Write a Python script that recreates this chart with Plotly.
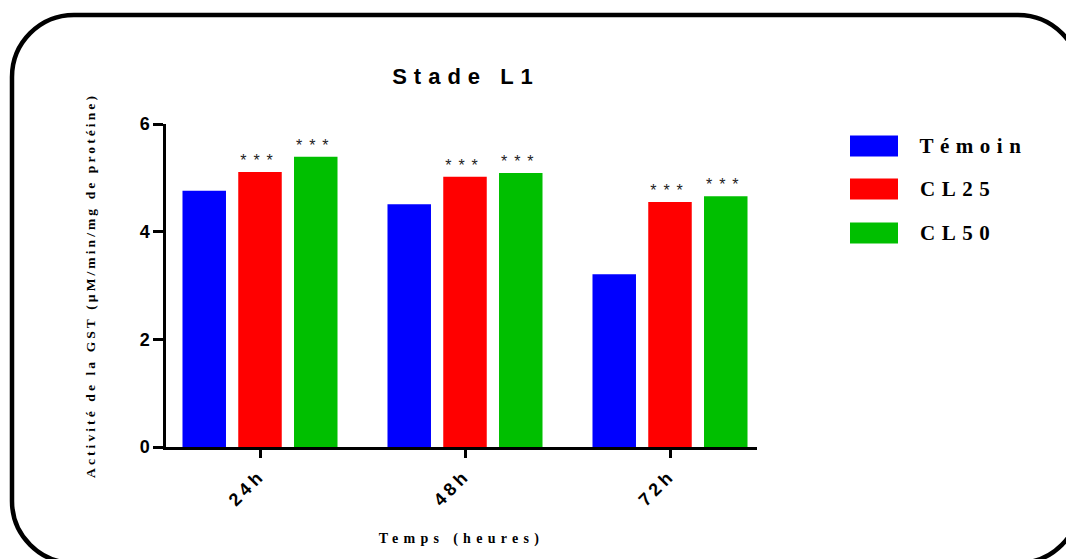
import plotly.graph_objects as go

# ---------------- data ----------------
categories = ["24h", "48h", "72h"]
series_names = ["Témoin", "CL25", "CL50"]
temoin = [4.76, 4.51, 3.21]
cl25 = [5.11, 5.02, 4.55]
cl50 = [5.39, 5.09, 4.66]
signif_temoin = ["", "", ""]
signif_cl25 = ["***", "***", "***"]
signif_cl50 = ["***", "***", "***"]
y_ticks = [0, 2, 4, 6]

colors = ["#0000FF", "#FF0000", "#00BF00"]
values = [temoin, cl25, cl50]
signifs = [signif_temoin, signif_cl25, signif_cl50]

W, H = 1066, 559
ML, MR, MT, MB = 166, 309, 124, 112
PW, PH = W - ML - MR, H - MT - MB


def px(x):
    return (x - ML) / PW


def py(y):
    return (H - MB - y) / PH


SANS = "Liberation Sans, Arial, sans-serif"
SERIF = "Liberation Serif, Times New Roman, serif"

LEG_LS = 6.5   # legend letter spacing (px)

fig = go.Figure()
for name, vals, col, sig in zip(series_names, values, colors, signifs):
    fig.add_trace(go.Bar(
        x=categories, y=vals, name=name,
        marker=dict(color=col, line=dict(width=0)),
        text=sig, textposition="outside", cliponaxis=False,
        textfont=dict(family=SANS, size=16, color="#222222"),
        showlegend=False,
    ))

# manual legend (large swatches like the original)
leg_y = [146, 189, 233]
shapes = []
annotations = []
for name, col, yc in zip(series_names, colors, leg_y):
    shapes.append(dict(type="rect", xref="paper", yref="paper",
                       x0=px(850), x1=px(898), y0=py(yc - 10.5), y1=py(yc + 10.5),
                       fillcolor=col, line=dict(width=0)))
    annotations.append(dict(text=name, xref="paper", yref="paper",
                            x=px(918 + LEG_LS * len(name) / 2), y=py(yc),
                            xanchor="left", yanchor="middle",
                            showarrow=False,
                            font=dict(family=SERIF, size=21, color="black", weight="bold")))

# rounded frame
L, T, R, B, r = 12, 15, 1080, 563, 62
k = 0.5523 * r
pts = [
    ("M", [(L, T + r)]),
    ("C", [(L, T + r - k), (L + r - k, T), (L + r, T)]),
    ("L", [(R - r, T)]),
    ("C", [(R - r + k, T), (R, T + r - k), (R, T + r)]),
    ("L", [(R, B - r)]),
    ("C", [(R, B - r + k), (R - r + k, B), (R - r, B)]),
    ("L", [(L + r, B)]),
    ("C", [(L + r - k, B), (L, B - r + k), (L, B - r)]),
]
path = ""
for cmd, ps in pts:
    path += cmd + " ".join(f"{px(a):.5f},{py(b):.5f}" for a, b in ps) + " "
path += "Z"
shapes.append(dict(type="path", xref="paper", yref="paper", path=path,
                   line=dict(color="black", width=4.5), fillcolor="rgba(0,0,0,0)"))

fig.update_layout(
    width=W, height=H,
    margin=dict(l=ML, r=MR, t=MT, b=MB),
    paper_bgcolor="white", plot_bgcolor="white",
    barmode="group", bargap=0.184, bargroupgap=0.22,
    title=dict(text="Stade L1", x=px(466), xref="paper", xanchor="center",
               y=1 - 76 / H, yref="container", yanchor="middle",
               font=dict(family=SANS, size=22, color="black", weight="bold")),
    xaxis=dict(
        range=[(ML - 260) / 205, (ML + PW - 260) / 205],
        showline=True, linecolor="black", linewidth=2.5,
        ticks="outside", ticklen=8, tickwidth=2.5, tickcolor="black",
        tickangle=-45, showgrid=False, zeroline=False,
        tickfont=dict(family=SANS, size=18, color="black", weight="bold"),
        title=dict(text="Temps (heures)", standoff=33,
                   font=dict(family=SERIF, size=14, color="black", weight="bold")),
    ),
    yaxis=dict(
        range=[0, 6], tickvals=y_ticks,
        showline=True, linecolor="black", linewidth=2.5,
        ticks="outside", ticklen=10, tickwidth=2.5, tickcolor="black",
        showgrid=False, zeroline=False,
        tickfont=dict(family=SANS, size=18, color="black", weight="bold"),
        title=dict(text="Activité de la GST (µM/min/mg de protéine)", standoff=41,
                   font=dict(family=SERIF, size=13.5, color="black", weight="bold")),
    ),
    shapes=shapes,
    annotations=annotations,
)

css = ("html,body{margin:0;padding:0;overflow:hidden}"
       ".gtitle{letter-spacing:7px}"
       ".ytitle{letter-spacing:3.1px}"
       ".xtitle{letter-spacing:5.3px}"
       ".bartext{letter-spacing:7px}"
       ".xtick text{letter-spacing:4px}"
       ".annotation-text{letter-spacing:" + str(LEG_LS) + "px}")
post = ("var s=document.createElement('style');s.textContent='" + css +
        "';document.head.appendChild(s);")

fig.write_html("out.html", post_script=post, config={"displayModeBar": False})
